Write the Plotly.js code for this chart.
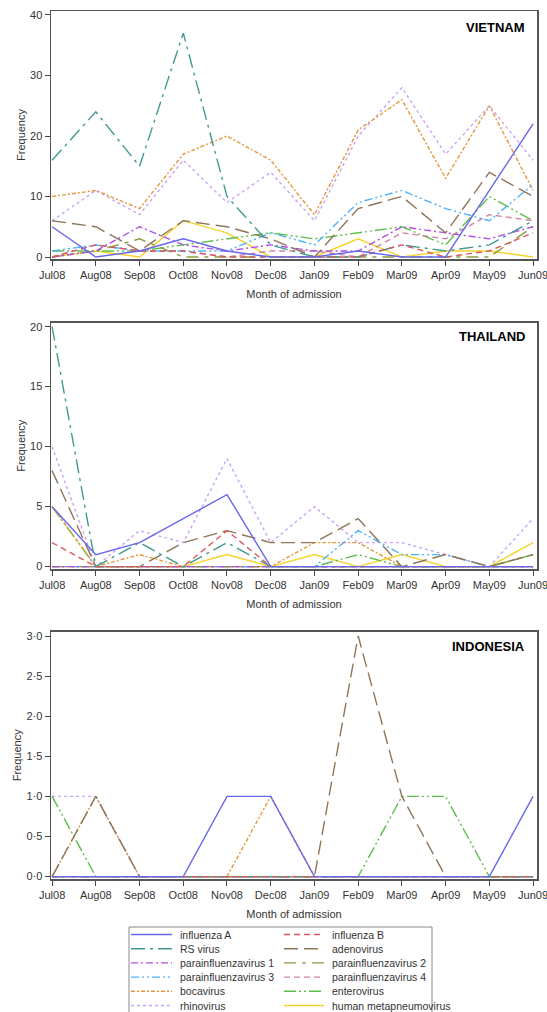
<!DOCTYPE html>
<html>
<head>
<meta charset="utf-8">
<script src="https://cdn.plot.ly/plotly-3.0.1.min.js"></script>
<style>
html,body{margin:0;padding:0;background:#fff;}
#chart{width:547px;height:1012px;}
</style>
</head>
<body>
<div id="chart"></div>
<script>
// ---------- DATA ----------
const months = ['Jul08','Aug08','Sep08','Oct08','Nov08','Dec08','Jan09','Feb09','Mar09','Apr09','May09','Jun09'];
const virusNames = ['influenza A','influenza B','RS virus','adenovirus','parainfluenzavirus 1','parainfluenzavirus 2',
  'parainfluenzavirus 3','parainfluenzavirus 4','bocavirus','enterovirus','rhinovirus','human metapneumovirus'];
const countryNames = ['VIETNAM','THAILAND','INDONESIA'];

// Vietnam
const vnInfluenzaA = [5,0,1,3,1,0,0,1,0,0,11,22];
const vnInfluenzaB = [0,2,1,1,0,0,0,0,2,0,1,4];
const vnRSV        = [16,24,15,37,10,2,0,0,2,1,2,6];
const vnAdeno      = [6,5,1,6,5,3,0,8,10,4,14,10];
const vnPIV1       = [0,1,5,2,1,2,1,1,5,4,3,5];
const vnPIV2       = [0,1,3,0,0,0,0,0,0,0,0,5];
const vnPIV3       = [1,2,1,1,1,4,2,9,11,8,6,12];
const vnPIV4       = [0,2,1,1,0,1,1,0,4,3,7,6];
const vnBoca       = [10,11,8,17,20,16,7,21,26,13,25,11];
const vnEntero     = [1,1,1,2,3,4,3,4,5,2,10,6];
const vnRhino      = [6,11,7,16,9,14,6,20,28,17,25,16];
const vnHMPV       = [0,1,0,6,4,0,0,3,0,1,1,0];

// Thailand
const thInfluenzaA = [5,1,2,4,6,0,0,0,0,0,0,0];
const thInfluenzaB = [2,0,0,0,3,0,0,0,0,0,0,0];
const thRSV        = [20,0,2,0,2,0,0,0,0,0,0,0];
const thAdeno      = [8,0,0,2,3,2,2,4,0,1,0,1];
const thPIV1       = [0,0,0,0,0,0,0,0,0,0,0,0];
const thPIV2       = [0,0,0,0,0,0,0,0,0,0,0,1];
const thPIV3       = [0,0,0,0,0,0,0,3,1,1,0,0];
const thPIV4       = [0,0,0,0,0,0,0,0,0,0,0,0];
const thBoca       = [5,0,1,0,0,0,2,2,0,0,0,0];
const thEntero     = [5,0,0,0,0,0,0,1,0,0,0,1];
const thRhino      = [10,0,3,2,9,2,5,2,2,1,0,4];
const thHMPV       = [0,0,0,0,1,0,1,0,1,0,0,2];

// Indonesia
const idInfluenzaA = [0,0,0,0,1,1,0,0,0,0,0,1];
const idInfluenzaB = [0,0,0,0,0,0,0,0,0,0,0,0];
const idRSV        = [0,0,0,0,0,0,0,0,0,0,0,0];
const idAdeno      = [0,1,0,0,0,0,0,3,1,0,0,0];
const idPIV1       = [0,0,0,0,0,0,0,0,0,0,0,0];
const idPIV2       = [0,0,0,0,0,0,0,0,0,0,0,0];
const idPIV3       = [0,0,0,0,0,0,0,0,0,0,0,0];
const idPIV4       = [0,0,0,0,0,0,0,0,0,0,0,0];
const idBoca       = [0,1,0,0,0,1,0,0,0,0,0,0];
const idEntero     = [1,0,0,0,0,0,0,0,1,1,0,0];
const idRhino      = [1,1,0,0,0,0,0,0,0,0,0,0];
const idHMPV       = [0,0,0,0,0,0,0,0,0,0,0,0];

const vnTicks = [0,10,20,30,40];
const thTicks = [0,5,10,15,20];
const idTicks = [0,0.5,1,1.5,2,2.5,3];
const idTickText = ['0·0','0·5','1·0','1·5','2·0','2·5','3·0'];

// ---------- STYLE ----------
const styles = [
  {color:'#6767ee', dash:'solid'},
  {color:'#d85a5e', dash:'6px,4px'},
  {color:'#3f9a90', dash:'14px,5px,3px,5px'},
  {color:'#8f7558', dash:'14px,6px'},
  {color:'#b050e6', dash:'7px,3px,2px,3px'},
  {color:'#8c9a3c', dash:'12px,6px,4px,6px'},
  {color:'#4db2ff', dash:'8px,3px,2px,3px,2px,3px'},
  {color:'#cf83a6', dash:'6px,4px'},
  {color:'#e8963c', dash:'4px,2px,2px,2px'},
  {color:'#5dbd4c', dash:'12px,3px,2px,3px,2px,3px'},
  {color:'#c8a4f6', dash:'3px,3px'},
  {color:'#f6d22a', dash:'solid'}
];

const countrySeries = [
  [vnInfluenzaA,vnInfluenzaB,vnRSV,vnAdeno,vnPIV1,vnPIV2,vnPIV3,vnPIV4,vnBoca,vnEntero,vnRhino,vnHMPV],
  [thInfluenzaA,thInfluenzaB,thRSV,thAdeno,thPIV1,thPIV2,thPIV3,thPIV4,thBoca,thEntero,thRhino,thHMPV],
  [idInfluenzaA,idInfluenzaB,idRSV,idAdeno,idPIV1,idPIV2,idPIV3,idPIV4,idBoca,idEntero,idRhino,idHMPV]
];

const xIdx = months.map((m,i)=>i);
const traces = [];
countrySeries.forEach((series, c) => {
  for (let k = series.length - 1; k >= 0; k--) {
    traces.push({
      type:'scatter', mode:'lines',
      x: xIdx, y: series[k],
      name: virusNames[k],
      showlegend: false,
      xaxis: c === 0 ? 'x' : 'x' + (c + 1),
      yaxis: c === 0 ? 'y' : 'y' + (c + 1),
      line: {color: styles[k].color, dash: styles[k].dash, width: 1.4},
      hoverinfo: 'x+y+name'
    });
  }
});

const H = 1012, L = 51, R = 10, PW = 547 - L - R;
const fy = px => 1 - px / H;
const fx = px => (px - L) / PW;
const font = 'Liberation Sans, Arial, sans-serif';

function xAxis(anchor) {
  return {
    anchor: anchor,
    range: [-0.025, 11.09],
    tickmode: 'array', tickvals: xIdx, ticktext: months,
    ticks: 'outside', ticklen: 5, tickwidth: 1, tickcolor: '#444',
    ticklabeloverflow: 'allow',
    showline: true, linecolor: '#555', linewidth: 1.5, mirror: true,
    showgrid: false, zeroline: false,
    tickfont: {family: font, size: 11, color: '#333'},
    title: {text: 'Month of admission', font: {family: font, size: 11, color: '#333'}, standoff: 10},
    automargin: false
  };
}
function yAxis(anchor, top, bottom, range, vals, text) {
  return {
    anchor: anchor,
    domain: [fy(bottom), fy(top)],
    range: range,
    tickmode: 'array', tickvals: vals, ticktext: text || vals.map(String),
    ticks: 'outside', ticklen: 5, tickwidth: 1, tickcolor: '#444',
    showline: true, linecolor: '#555', linewidth: 1.5, mirror: true,
    showgrid: false, zeroline: false,
    tickfont: {family: font, size: 11, color: '#333'},
    title: {text: 'Frequency', font: {family: font, size: 11, color: '#333'}, standoff: 2},
    automargin: false
  };
}

// ---------- custom legend (two columns) ----------
const legTop = 927, legRow0 = 934.5, legStep = 14.2;
const colX = [{s: 131, e: 172, t: 178}, {s: 284, e: 324, t: 330}];
const shapes = [{
  type: 'rect', xref: 'paper', yref: 'paper',
  x0: fx(129), x1: fx(432), y0: fy(legTop), y1: fy(1013),
  line: {color: '#888', width: 1}, fillcolor: 'rgba(0,0,0,0)'
}];
const annotations = countryNames.map((n, i) => ({
  text: '<b>' + n + '</b>',
  xref: 'paper', yref: 'paper',
  x: fx(527), xanchor: 'right',
  y: fy([28, 337, 646][i]), yanchor: 'middle',
  showarrow: false,
  font: {family: font, size: 13, color: '#000'}
}));
virusNames.forEach((n, k) => {
  const col = colX[k % 2];
  const yy = legRow0 + Math.floor(k / 2) * legStep;
  shapes.push({
    type: 'line', xref: 'paper', yref: 'paper',
    x0: fx(col.s), x1: fx(col.e), y0: fy(yy), y1: fy(yy),
    line: {color: styles[k].color, dash: styles[k].dash, width: 1.4}
  });
  annotations.push({
    text: n, xref: 'paper', yref: 'paper',
    x: fx(col.t), xanchor: 'left', y: fy(yy), yanchor: 'middle',
    showarrow: false,
    font: {family: font, size: 10.5, color: '#333'}
  });
});

const layout = {
  width: 547, height: 1012,
  margin: {l: L, r: R, t: 0, b: 0},
  paper_bgcolor: '#fff', plot_bgcolor: '#fff',
  showlegend: false,
  xaxis: xAxis('y'),
  xaxis2: xAxis('y2'),
  xaxis3: xAxis('y3'),
  yaxis: yAxis('x', 11, 259, [-0.33, 40.66], vnTicks),
  yaxis2: yAxis('x2', 322.7, 569, [-0.2, 20.33], thTicks),
  yaxis3: yAxis('x3', 631.7, 879, [-0.03, 3.054], idTicks, idTickText),
  shapes: shapes,
  annotations: annotations
};

Plotly.newPlot('chart', traces, layout, {displayModeBar: false, staticPlot: true});
</script>
</body>
</html>
